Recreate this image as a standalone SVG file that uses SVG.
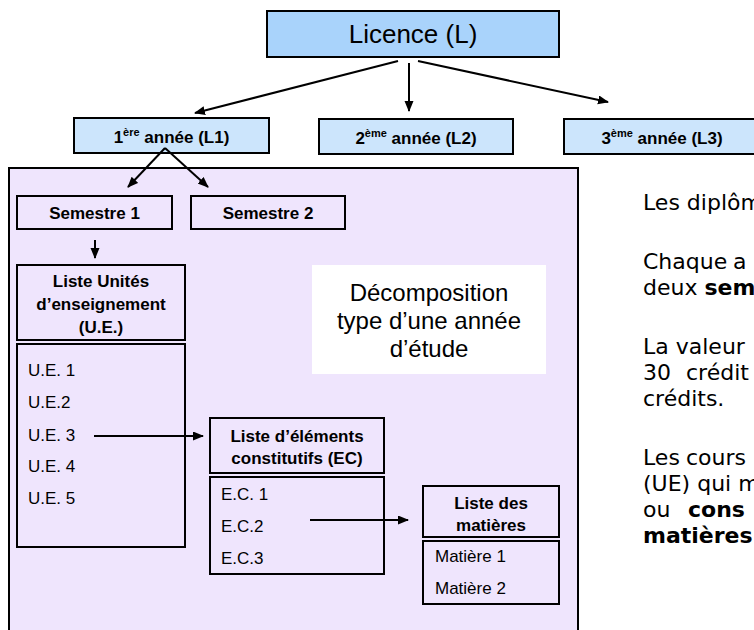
<svg xmlns="http://www.w3.org/2000/svg" width="754" height="630" viewBox="0 0 754 630">
<defs>
<marker id="ah" markerUnits="userSpaceOnUse" markerWidth="11" markerHeight="10" refX="10" refY="4.5" orient="auto">
<path d="M0,0 L11,4.5 L0,9 z" fill="#000"/>
</marker>
<style>
.box{stroke:#000;stroke-width:2}
.lic{fill:#a9d3fb}
.yr{fill:#cce5fc}
.lav{fill:#efe5fd}
.t{font-family:"Liberation Sans",Arial,sans-serif;fill:#000}
.b{font-weight:bold;font-size:17px;text-anchor:middle}
.r{font-size:17px}
.conn line{stroke:#000;stroke-width:2;marker-end:url(#ah)}
.side{font-family:"DejaVu Sans",Verdana,sans-serif;font-size:22px;fill:#000}
.sb{font-weight:bold}
</style>
</defs>
<rect width="754" height="630" fill="#fff"/>
<g id="annee-panel">
<rect class="box lav" x="9" y="168" width="569" height="480"/>
</g>
<g id="licence">
<rect class="box lic" x="267" y="11" width="292" height="46"/>
<text class="t" x="413" y="43" font-size="26" text-anchor="middle">Licence (L)</text>
</g>
<g id="l1">
<rect class="box yr" x="74" y="118" width="195" height="35"/>
<text class="t b" x="171.5" y="143">1<tspan font-size="11" dy="-7">ère</tspan><tspan dy="7"> année (L1)</tspan></text>
</g>
<g id="l2">
<rect class="box yr" x="319" y="119" width="194" height="35"/>
<text class="t b" x="416" y="144">2<tspan font-size="11" dy="-7">ème</tspan><tspan dy="7"> année (L2)</tspan></text>
</g>
<g id="l3">
<rect class="box yr" x="564" y="119" width="196" height="35"/>
<text class="t b" x="662" y="144">3<tspan font-size="11" dy="-7">ème</tspan><tspan dy="7"> année (L3)</tspan></text>
</g>
<g id="semestre1">
<rect class="box lav" x="17" y="196" width="155" height="33"/>
<text class="t b" x="94.5" y="219">Semestre 1</text>
</g>
<g id="semestre2">
<rect class="box lav" x="191" y="196" width="154" height="33"/>
<text class="t b" x="268" y="219">Semestre 2</text>
</g>
<g id="liste-ue">
<rect class="box lav" x="17" y="265" width="168" height="75"/>
<text class="t b" x="101" y="287">Liste Unités</text>
<text class="t b" x="101" y="310">d’enseignement</text>
<text class="t b" x="101" y="333">(U.E.)</text>
<rect class="box lav" x="17" y="344" width="168" height="203"/>
<text class="t r" x="28" y="376">U.E. 1</text>
<text class="t r" x="28" y="408">U.E.2</text>
<text class="t r" x="28" y="441">U.E. 3</text>
<text class="t r" x="28" y="472">U.E. 4</text>
<text class="t r" x="28" y="504">U.E. 5</text>
</g>
<g id="decomposition">
<rect x="312" y="265" width="234" height="109" fill="#fff"/>
<text class="t" x="429" y="301" font-size="24" text-anchor="middle">Décomposition</text>
<text class="t" x="429" y="329" font-size="24" text-anchor="middle">type d’une année</text>
<text class="t" x="429" y="357" font-size="24" text-anchor="middle">d’étude</text>
</g>
<g id="liste-ec">
<rect class="box lav" x="210" y="418" width="174" height="55"/>
<text class="t b" x="297" y="442" font-size="16">Liste d’éléments</text>
<text class="t b" x="297" y="464" font-size="16">constitutifs (EC)</text>
<rect class="box lav" x="210" y="477" width="174" height="97"/>
<text class="t r" x="221" y="500">E.C. 1</text>
<text class="t r" x="221" y="532">E.C.2</text>
<text class="t r" x="221" y="564">E.C.3</text>
</g>
<g id="liste-matieres">
<rect class="box lav" x="423" y="486" width="136" height="51"/>
<text class="t b" x="491" y="509">Liste des</text>
<text class="t b" x="491" y="531">matières</text>
<rect class="box lav" x="423" y="541" width="136" height="63"/>
<text class="t r" x="435" y="562">Matière 1</text>
<text class="t r" x="435" y="594">Matière 2</text>
</g>
<g id="connectors" class="conn">
<line x1="398" y1="61" x2="195" y2="113"/>
<line x1="409" y1="63" x2="409" y2="111"/>
<line x1="418" y1="61" x2="608" y2="102"/>
<line x1="165" y1="148" x2="128" y2="187"/>
<line x1="165" y1="148" x2="208" y2="187"/>
<line x1="95" y1="240" x2="95" y2="258"/>
<line x1="94" y1="436" x2="203" y2="436"/>
<line x1="310" y1="520" x2="408" y2="520"/>
</g>
<g id="texte-droite" class="side">
<text x="643" y="210">Les diplôm</text>
<text x="643" y="269">Chaque<tspan x="733">a</tspan></text>
<text x="643" y="295">deux <tspan class="sb">sem</tspan></text>
<text x="643" y="354">La valeur</text>
<text x="643" y="380">30<tspan x="686">crédit</tspan></text>
<text x="643" y="406">crédits.</text>
<text x="643" y="465">Les<tspan x="686">cours</tspan></text>
<text x="643" y="491">(UE) qui m</text>
<text x="643" y="517">ou<tspan class="sb" x="688">cons</tspan></text>
<text x="643" y="543" class="sb">matières</text>
</g>
</svg>
